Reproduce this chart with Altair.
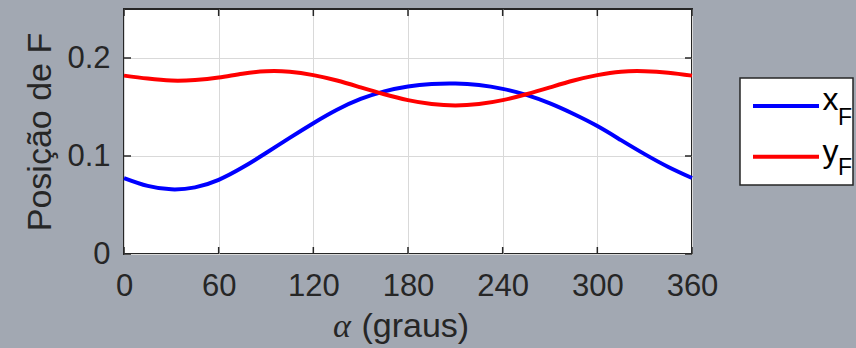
import altair as alt
import pandas as pd

# Crank angle (degrees) and the two coordinates of point F
alpha_deg = [0, 15, 30, 45, 60, 75, 90, 105, 120, 135, 150, 165, 180,
             195, 210, 225, 240, 255, 270, 285, 300, 315, 330, 345, 360]
x_F = [0.0775, 0.0695, 0.066, 0.068, 0.0757, 0.0882, 0.103, 0.1185, 0.1335,
       0.1472, 0.1582, 0.166, 0.171, 0.1735, 0.174, 0.1724, 0.1685, 0.1623,
       0.1536, 0.1428, 0.1305, 0.1162, 0.1019, 0.0888, 0.0775]
y_F = [0.182, 0.179, 0.177, 0.1775, 0.180, 0.184, 0.1865, 0.186, 0.1825,
       0.177, 0.170, 0.163, 0.157, 0.153, 0.1515, 0.153, 0.157, 0.163,
       0.170, 0.177, 0.1825, 0.186, 0.1865, 0.185, 0.182]

series_names = ["x_F", "y_F"]
series_colors = ["#0000ff", "#ff0000"]
legend_main = ["x", "y"]
legend_sub = ["F", "F"]

x_ticks = [0, 60, 120, 180, 240, 300, 360]
y_ticks = [0, 0.1, 0.2]

W, H = 568, 245
INK = "#262626"
BG = "#a2a8b2"

df = pd.DataFrame({
    "alpha": alpha_deg * 2,
    "pos": x_F + y_F,
    "serie": [series_names[0]] * len(alpha_deg) + [series_names[1]] * len(alpha_deg),
})
xt = pd.DataFrame({"alpha": x_ticks})
yt = pd.DataFrame({"pos": y_ticks})
one = pd.DataFrame({"k": [0]})

xscale = alt.Scale(domain=[0, 360], nice=False, zero=False)
yscale = alt.Scale(domain=[0, 0.25], nice=False)

lines = alt.Chart(df).mark_line(strokeWidth=4, interpolate="natural").encode(
    x=alt.X("alpha:Q", scale=xscale,
            axis=alt.Axis(values=x_ticks, title="(graus)", grid=True,
                          ticks=False, tickSize=0, domain=False,
                          labelFlush=False, labelOverlap=False,
                          labelPadding=17, labelFontSize=31, labelColor=INK,
                          titleFontSize=34, titleFontWeight="normal", titleColor=INK,
                          titleX=237, titleY=82.7, titleAlign="left",
                          titleBaseline="alphabetic",
                          gridColor="#d9d9d9", gridWidth=1)),
    y=alt.Y("pos:Q", scale=yscale,
            axis=alt.Axis(values=y_ticks, format="~g", title="Posição de F",
                          grid=True, ticks=False, tickSize=0, domain=False,
                          labelFlush=False, labelOverlap=False,
                          labelPadding=14, labelFontSize=31, labelColor=INK,
                          titleFontSize=34, titleFontWeight="normal", titleColor=INK,
                          titleAngle=270, titleX=-74, titleY=H / 2,
                          titleAlign="center", titleBaseline="alphabetic",
                          gridColor="#d9d9d9", gridWidth=1)),
    color=alt.Color("serie:N", scale=alt.Scale(domain=series_names, range=series_colors),
                    legend=None),
)

# Inward tick marks on all four sides of the box
tick_style = dict(color=INK, strokeWidth=1.5)
bottom_ticks = alt.Chart(xt).mark_rule(**tick_style).encode(
    x="alpha:Q", y=alt.value(H), y2=alt.value(H - 7))
top_ticks = alt.Chart(xt).mark_rule(**tick_style).encode(
    x="alpha:Q", y=alt.value(0), y2=alt.value(7))
left_ticks = alt.Chart(yt).mark_rule(**tick_style).encode(
    y="pos:Q", x=alt.value(0), x2=alt.value(7))
right_ticks = alt.Chart(yt).mark_rule(**tick_style).encode(
    y="pos:Q", x=alt.value(W), x2=alt.value(W - 7))

# Greek alpha in front of the x-axis title
alpha_sym = alt.Chart(one).mark_text(
    text="α", font="Liberation Serif", fontStyle="italic", fontSize=34,
    align="left", baseline="alphabetic", color=INK,
).encode(x=alt.value(209), y=alt.value(327.7))

# Legend box with line swatches and subscripted labels
legend_box = alt.Chart(one).mark_rect(fill="white", stroke=INK, strokeWidth=1.5).encode(
    x=alt.value(616), x2=alt.value(729), y=alt.value(69), y2=alt.value(176))

legend_layers = [legend_box]
swatch_y = [97, 147.7]
main_base = [101, 152.7]
sub_base = [116, 166]
for i in range(2):
    legend_layers.append(
        alt.Chart(one).mark_rule(color=series_colors[i], strokeWidth=4).encode(
            x=alt.value(629), x2=alt.value(695), y=alt.value(swatch_y[i])))
    legend_layers.append(
        alt.Chart(one).mark_text(text=legend_main[i], fontSize=32, align="left",
                                 baseline="alphabetic", color="black").encode(
            x=alt.value(698.5), y=alt.value(main_base[i])))
    legend_layers.append(
        alt.Chart(one).mark_text(text=legend_sub[i], fontSize=23, align="left",
                                 baseline="alphabetic", color="black").encode(
            x=alt.value(714), y=alt.value(sub_base[i])))

chart = alt.layer(
    lines, bottom_ticks, top_ticks, left_ticks, right_ticks, alpha_sym, *legend_layers
).properties(
    width=W, height=H,
    background=BG,
    autosize=alt.AutoSizeParams(type="none"),
    padding={"left": 124, "top": 9, "right": 164, "bottom": 94},
).configure(
    font="Liberation Sans",
).configure_view(
    fill="white", stroke=INK, strokeWidth=2,
)

chart.save("out.html", embed_options={"renderer": "svg", "actions": False})
